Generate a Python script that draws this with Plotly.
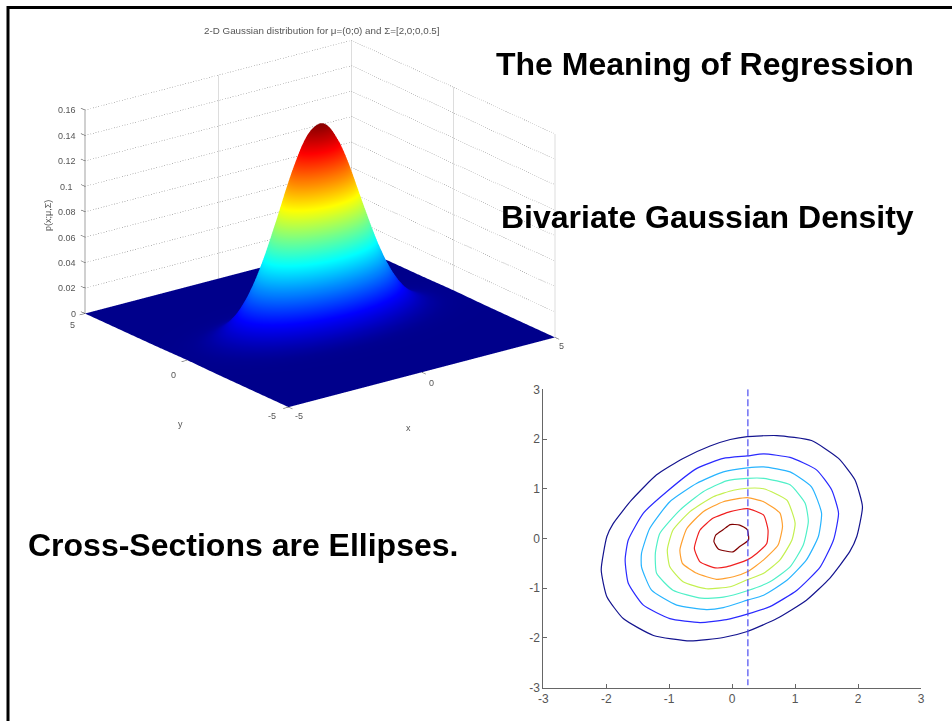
import plotly.graph_objects as go

W, H = 952, 721

# surface profiles (half profile, mirrored below)
grid_half = [0, 0.125, 0.25, 0.375, 0.5, 0.625, 0.75, 0.875, 1, 1.125, 1.25, 1.375, 1.5, 1.75, 2, 2.25, 2.5, 2.75, 3, 3.25, 3.5, 3.75, 4, 4.25, 4.5, 4.75, 5]
x_profile_half = [1, 0.996, 0.984, 0.965, 0.939, 0.907, 0.869, 0.826, 0.779, 0.729, 0.677, 0.623, 0.570, 0.465, 0.368, 0.282, 0.210, 0.151, 0.105, 0.071, 0.047, 0.030, 0.018, 0.011, 0.006, 0.004, 0.002]
y_profile_half = [1, 0.984, 0.939, 0.869, 0.779, 0.677, 0.570, 0.465, 0.368, 0.282, 0.210, 0.151, 0.105, 0.047, 0.018, 0.006, 0.002, 0.0005, 0.00012, 0.00003, 0.00001, 0.000003, 0.000001, 0.0000003, 0.0000001, 0.00000003, 0.00000001]
peak = 0.159

z_ticks = [0, 0.02, 0.04, 0.06, 0.08, 0.1, 0.12, 0.14, 0.16]
z_labels = ["0", "0.02", "0.04", "0.06", "0.08", "0.1", "0.12", "0.14", "0.16"]
xy_ticks = [-5, 0, 5]

# contours, outermost first
contour_colors = ["#14148f", "#2a2aff", "#28b4ff", "#50f0c8", "#c4f050", "#ffa030", "#f02020", "#800000"]
c1_x = [0.24, 0.71, 1.26, 1.69, 1.95, 2.07, 1.98, 1.87, 1.55, 1.18, 0.71, 0.24, -0.14, -0.67, -1.25, -1.73, -1.99, -2.08, -1.99, -1.89, -1.60, -1.20, -0.78, -0.35, -0.03]
c1_y = [2.05, 2.07, 1.97, 1.61, 1.18, 0.64, 0.04, -0.26, -0.80, -1.24, -1.61, -1.87, -1.99, -2.06, -1.95, -1.61, -1.17, -0.63, 0.04, 0.30, 0.77, 1.28, 1.61, 1.86, 1.99]
c2_x = [0.24, 0.50, 0.92, 1.34, 1.58, 1.69, 1.61, 1.40, 1.03, 0.60, 0.24, -0.09, -0.51, -0.99, -1.41, -1.65, -1.70, -1.65, -1.41, -1.04, -0.56, -0.14]
c2_y = [1.66, 1.70, 1.63, 1.38, 0.98, 0.51, -0.03, -0.57, -1.04, -1.37, -1.52, -1.63, -1.69, -1.61, -1.34, -0.90, -0.43, -0.03, 0.51, 0.94, 1.41, 1.61]
c3_x = [0.24, 0.50, 0.92, 1.26, 1.42, 1.37, 1.18, 0.87, 0.50, 0.24, -0.14, -0.41, -0.88, -1.28, -1.44, -1.44, -1.31, -0.99, -0.56, -0.14]
c3_y = [1.42, 1.44, 1.34, 1.04, 0.51, 0.04, -0.43, -0.84, -1.14, -1.24, -1.39, -1.43, -1.34, -1.04, -0.57, -0.30, 0.20, 0.74, 1.11, 1.34]
c4_x = [0.24, 0.50, 0.92, 1.16, 1.21, 1.13, 0.92, 0.60, 0.24, -0.14, -0.49, -0.94, -1.20, -1.22, -1.15, -0.83, -0.46, -0.09]
c4_y = [1.21, 1.21, 1.08, 0.71, 0.34, -0.13, -0.57, -0.87, -1.05, -1.18, -1.20, -1.04, -0.70, -0.30, 0.10, 0.57, 0.94, 1.16]
c5_x = [0.24, 0.50, 0.87, 1.00, 0.95, 0.76, 0.50, 0.24, -0.03, -0.41, -0.78, -0.99, -1.03, -0.94, -0.67, -0.30, 0.02]
c5_y = [1.01, 1.00, 0.77, 0.31, -0.03, -0.43, -0.70, -0.83, -0.97, -1.01, -0.87, -0.57, -0.23, 0.17, 0.54, 0.84, 0.97]
c6_x = [0.24, 0.50, 0.76, 0.80, 0.73, 0.50, 0.24, 0.02, -0.25, -0.56, -0.79, -0.83, -0.72, -0.46, -0.14]
c6_y = [0.82, 0.74, 0.51, 0.24, -0.13, -0.43, -0.67, -0.77, -0.82, -0.70, -0.50, -0.23, 0.20, 0.54, 0.74]
c7_x = [0.24, 0.50, 0.57, 0.55, 0.39, 0.24, -0.09, -0.27, -0.51, -0.60, -0.51, -0.30, -0.03]
c7_y = [0.60, 0.47, 0.17, -0.10, -0.30, -0.43, -0.57, -0.59, -0.47, -0.20, 0.17, 0.41, 0.54]
c8_x = [-0.03, 0.12, 0.24, 0.26, 0.12, 0.01, -0.22, -0.29, -0.26, -0.14]
c8_y = [0.28, 0.27, 0.18, -0.03, -0.16, -0.27, -0.21, -0.06, 0.07, 0.18]
contours = [(c1_x, c1_y), (c2_x, c2_y), (c3_x, c3_y), (c4_x, c4_y), (c5_x, c5_y), (c6_x, c6_y), (c7_x, c7_y), (c8_x, c8_y)]

slice_x = 0.25
slice_y = [3, -2.95]
contour_ticks = [-3, -2, -1, 0, 1, 2, 3]
contour_labels = ["-3", "-2", "-1", "0", "1", "2", "3"]

JET = [
    [0, "rgb(0,0,135)"], [0.125, "rgb(0,0,255)"], [0.375, "rgb(0,255,255)"],
    [0.625, "rgb(255,255,0)"], [0.875, "rgb(255,0,0)"], [1, "rgb(128,0,0)"],
]
GRAY = "#555555"
GRID = "#777777"


def mirror(half, sign=1):
    return [sign * v for v in reversed(half[1:])] + list(half)


grid = mirror(grid_half, -1)
x_profile = mirror(x_profile_half)
y_profile = mirror(y_profile_half)
z_surface = [[peak * px * py for px in x_profile] for py in y_profile]

no_contour = dict(show=False, highlight=False)
fig = go.Figure()
fig.add_trace(go.Surface(
    x=grid, y=grid, z=z_surface, colorscale=JET, cmin=-0.001, cmax=0.16, showscale=False,
    lighting=dict(ambient=1, diffuse=0, specular=0, fresnel=0), hoverinfo="skip",
    contours=dict(x=no_contour, y=no_contour, z=no_contour),
))


def line3d(xs, ys, zs, color=GRID, dash="dot", width=1):
    fig.add_trace(go.Scatter3d(x=xs, y=ys, z=zs, mode="lines", showlegend=False, hoverinfo="skip",
                               line=dict(color=color, width=width, dash=dash)))


# dotted walls; gl dash length follows data units, so the short z runs stay solid and pale
for z in z_ticks[1:]:
    line3d([-5, 5, 5], [5, 5, -5], [z, z, z])
line3d([0, 0], [5, 5], [0, 0.16], color="#bbbbbb", dash="solid")
line3d([5, 5], [5, 5], [0, 0.16], color="#bbbbbb", dash="solid")
line3d([5, 5], [0, 0], [0, 0.16], color="#bbbbbb", dash="solid")
line3d([5, 5], [-5, -5], [0, 0.16], color="#bbbbbb", dash="solid")

# solid axis and ticks
line3d([-5, -5], [5, 5], [0, 0.16], color="#444444", dash="solid")
for z in z_ticks:
    line3d([-5, -5], [5, 5.2], [z, z], color="#444444", dash="solid")
for v in xy_ticks:
    line3d([v, v], [-5, -5.2], [0, 0], color="#444444", dash="solid")
    line3d([-5, -5.2], [v, v], [0, 0], color="#444444", dash="solid")

scene_notes = []


def scene_note(x, y, z, text, dx, dy):
    scene_notes.append(dict(x=x, y=y, z=z, text=text, showarrow=False, xshift=dx, yshift=dy,
                            font=dict(family="Liberation Sans", size=9, color=GRAY)))


for z, label in zip(z_ticks, z_labels):
    scene_note(-5, 5, z, label, -18 if len(label) > 1 else -11, 0)
scene_note(-5, 5, 0, "5", -12, -11)
scene_note(-5, 0, 0, "0", -13, -14)
scene_note(-5, -5, 0, "-5", -17, -9)
scene_note(-5, -5, 0, "-5", 10, -9)
scene_note(0, -5, 0, "0", 10, -10)
scene_note(5, -5, 0, "5", 6, -8)

# contour panel
for (cx, cy), color in zip(contours, contour_colors):
    fig.add_trace(go.Scatter(x=cx + cx[:1], y=cy + cy[:1], mode="lines", showlegend=False, hoverinfo="skip",
                             line=dict(color=color, width=1.2, shape="spline", smoothing=0.5)))
fig.add_trace(go.Scatter(x=[slice_x, slice_x], y=slice_y, mode="lines", showlegend=False, hoverinfo="skip",
                         line=dict(color="#4a4af0", width=1.2, dash="7px,3px")))


def note(px, py, text, size, bold=False, color="black", angle=0):
    label = f"<b>{text}</b>" if bold else text
    fig.add_annotation(xref="paper", yref="paper", x=px / W, y=1 - py / H, text=label, showarrow=False,
                       xanchor="center", yanchor="middle", textangle=angle,
                       font=dict(family="Liberation Sans", size=size, color=color))


note(705, 64, "The Meaning of Regression", 32, bold=True)
note(707, 217, "Bivariate Gaussian Density", 32, bold=True)
note(243, 545, "Cross-Sections are Ellipses.", 32, bold=True)
note(322, 31, "2-D Gaussian distribution for μ=(0;0) and Σ=[2,0;0,0.5]", 9.8, color=GRAY)
note(48, 216, "p(x;μ,Σ)", 9, color=GRAY, angle=-90)
note(180, 424, "y", 9, color=GRAY)
note(408, 428, "x", 9, color=GRAY)

eye_scale = 1.05
ex, ey, ez = -0.565, -0.749, 0.347
box_scale = 1.49
z_floor = -0.002  # keeps the flat floor off the scene's clip plane
axis_style = dict(range=[-3, 3], tickvals=contour_ticks, ticktext=contour_labels, ticks="inside", ticklen=4,
                  showgrid=False, zeroline=False, showline=True, linecolor="#666666", tickcolor="#666666",
                  automargin=False, tickfont=dict(family="Liberation Sans", size=12, color=GRAY))
fig.update_layout(
    template="none", width=W, height=H, margin=dict(l=0, r=0, t=0, b=0, pad=0), showlegend=False,
    paper_bgcolor="white", plot_bgcolor="rgba(0,0,0,0)",
    scene=dict(
        domain=dict(x=[0, 640 / W], y=[1 - 449.3 / H, 1 - 1.3 / H]),
        xaxis=dict(visible=False, range=[-5.5, 5.5]),
        yaxis=dict(visible=False, range=[-5.5, 5.5]),
        zaxis=dict(visible=False, range=[z_floor, 0.16]),
        aspectmode="manual",
        aspectratio=dict(x=1.1 * box_scale, y=1.114 * box_scale, z=0.65 * box_scale * (0.16 - z_floor) / 0.16),
        camera=dict(projection=dict(type="orthographic"), up=dict(x=0, y=0, z=1),
                    center=dict(x=0, y=0, z=0),
                    eye=dict(x=ex * eye_scale, y=ey * eye_scale, z=ez * eye_scale)),
        annotations=scene_notes,
        bgcolor="rgba(0,0,0,0)",
    ),
    xaxis=dict(domain=[543.3 / W, 921 / W], **axis_style),
    yaxis=dict(domain=[1 - 687.7 / H, 1 - 389.3 / H], **axis_style),
    shapes=[
        dict(type="line", xref="paper", yref="paper", x0=8 / W, x1=1, y0=1 - 7.5 / H, y1=1 - 7.5 / H, line=dict(color="black", width=3)),
        dict(type="line", xref="paper", yref="paper", x0=8 / W, x1=8 / W, y0=0, y1=1 - 6 / H, line=dict(color="black", width=3)),
    ],
)

fig.write_html("out.html", config=dict(displayModeBar=False), post_script="document.body.style.margin='0';")
